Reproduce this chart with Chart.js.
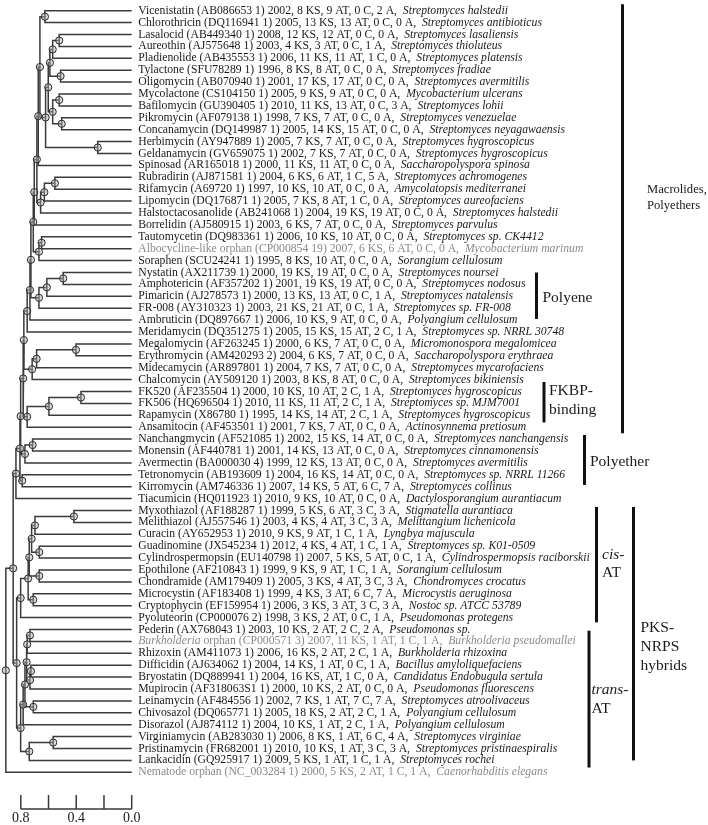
<!DOCTYPE html>
<html>
<head>
<meta charset="UTF-8">
<title>Modular PKS cluster dendrogram</title>
<script src="https://cdn.jsdelivr.net/npm/chart.js"></script>
<style>
    html, body { margin: 0; padding: 0; background: #fff; }
    #wrap { width: 708px; height: 825px; }
</style>
</head>
<body>
<div id="wrap"><canvas id="tree" width="708" height="825"></canvas></div>
<script>
// leaves, top to bottom
const clusters = ['Vicenistatin', 'Chlorothricin', 'Lasalocid', 'Aureothin', 'Pladienolide', 'Tylactone', 'Oligomycin',
    'Mycolactone', 'Bafilomycin', 'Pikromycin', 'Concanamycin', 'Herbimycin', 'Geldanamycin', 'Spinosad', 'Rubradirin',
    'Rifamycin', 'Lipomycin', 'Halstoctacosanolide', 'Borrelidin', 'Tautomycetin', 'Albocycline-like orphan', 'Soraphen',
    'Nystatin', 'Amphotericin', 'Pimaricin', 'FR-008', 'Ambruticin', 'Meridamycin', 'Megalomycin', 'Erythromycin',
    'Midecamycin', 'Chalcomycin', 'FK520', 'FK506', 'Rapamycin', 'Ansamitocin', 'Nanchangmycin', 'Monensin', 'Avermectin',
    'Tetronomycin', 'Kirromycin', 'Tiacumicin', 'Myxothiazol', 'Melithiazol', 'Curacin', 'Guadinomine', 'Cylindrospermopsin',
    'Epothilone', 'Chondramide', 'Microcystin', 'Cryptophycin', 'Pyoluteorin', 'Pederin', 'Burkholderia orphan', 'Rhizoxin',
    'Difficidin', 'Bryostatin', 'Mupirocin', 'Leinamycin', 'Chivosazol', 'Disorazol', 'Virginiamycin', 'Pristinamycin',
    'Lankacidin', 'Nematode orphan'];
const accessions = ['AB086653 1', 'DQ116941 1', 'AB449340 1', 'AJ575648 1', 'AB435553 1', 'SFU78289 1', 'AB070940 1',
    'CS104150 1', 'GU390405 1', 'AF079138 1', 'DQ149987 1', 'AY947889 1', 'GV659075 1', 'AR165018 1', 'AJ871581 1',
    'A69720 1', 'DQ176871 1', 'AB241068 1', 'AJ580915 1', 'DQ983361 1', 'CP000854 19', 'SCU24241 1',
    'AX211739 1', 'AF357202 1', 'AJ278573 1', 'AY310323 1', 'DQ897667 1', 'DQ351275 1', 'AF263245 1', 'AM420293 2',
    'AR897801 1', 'AY509120 1', 'AF235504 1', 'HQ696504 1', 'X86780 1', 'AF453501 1', 'AF521085 1', 'AF440781 1', 'BA000030 4',
    'AB193609 1', 'AM746336 1', 'HQ011923 1', 'AF188287 1', 'AJ557546 1', 'AY652953 1', 'JX545234 1', 'EU140798 1',
    'AF210843 1', 'AM179409 1', 'AF183408 1', 'EF159954 1', 'CP000076 2', 'AX768043 1', 'CP000571 3', 'AM411073 1',
    'AJ634062 1', 'DQ889941 1', 'AF318063S1 1', 'AF484556 1', 'DQ065771 1', 'AJ874112 1', 'AB283030 1', 'FR682001 1',
    'GQ925917 1', 'NC_003284 1'];
const years = [2002, 2005, 2008, 2003, 2006, 1996, 2001, 2005, 2010, 1998, 2005, 2005, 2002, 2000, 2004, 1997, 2005, 2004,
    2003, 2006, 2007, 1995, 2000, 2001, 2000, 2003, 2006, 2005, 2000, 2004, 2004, 2003, 2000, 2010, 1995, 2001, 2002, 2001,
    1999, 2004, 2007, 2010, 1999, 2003, 2010, 2012, 2007, 1999, 2005, 1999, 2006, 1998, 2003, 2007, 2006, 2004, 2004, 2000,
    2002, 2005, 2004, 2006, 2010, 2009, 2000];
const ksCounts = [8, 13, 12, 4, 11, 8, 17, 9, 11, 7, 14, 7, 7, 11, 6, 10, 7, 19, 6, 10, 6, 8, 19, 19, 13, 21, 10, 15, 6, 6,
    7, 8, 10, 11, 14, 7, 15, 14, 12, 16, 14, 9, 5, 4, 9, 4, 5, 9, 3, 4, 3, 3, 10, 11, 16, 14, 16, 10, 7, 18, 10, 8, 10, 5, 5];
const atCounts = [9, 13, 12, 3, 11, 8, 17, 9, 13, 7, 15, 7, 7, 11, 6, 10, 8, 19, 7, 10, 6, 10, 19, 19, 13, 21, 9, 15, 7, 7,
    7, 8, 10, 11, 14, 7, 14, 13, 13, 14, 5, 10, 6, 4, 9, 4, 5, 9, 4, 3, 3, 2, 2, 1, 2, 1, null, 2, 1, 2, 1, 1, 1, 1, 2];
const cCounts = [0, 0, 0, 0, 1, 0, 0, 0, 0, 0, 0, 0, 0, 0, 1, 0, 1, 0, 0, 0, 0, 0, 0, 0, 0, 0, 0, 2, 0, 0,
    0, 0, 2, 2, 2, 0, 0, 0, 0, 0, 6, 0, 3, 3, 1, 1, 0, 1, 3, 6, 3, 0, 2, 1, 2, 0, 1, 0, 7, 2, 2, 6, 3, 1, 1];
const aCounts = [2, 0, 0, 1, 0, 0, 0, 0, 3, 0, 0, 0, 0, 0, 5, 0, 0, 0, 0, 0, 0, 0, 0, 0, 1, 1, 0, 1, 0, 0,
    0, 0, 1, 1, 1, 0, 0, 0, 0, 0, 7, 0, 3, 3, 1, 1, 1, 1, 3, 7, 3, 1, 2, 1, 1, 1, 0, 0, 7, 1, 1, 4, 3, 1, 1];
const organisms = ['Streptomyces halstedii', 'Streptomyces antibioticus', 'Streptomyces lasaliensis', 'Streptomyces thioluteus',
    'Streptomyces platensis', 'Streptomyces fradiae', 'Streptomyces avermitilis', 'Mycobacterium ulcerans', 'Streptomyces lohii',
    'Streptomyces venezuelae', 'Streptomyces neyagawaensis', 'Streptomyces hygroscopicus', 'Streptomyces hygroscopicus',
    'Saccharopolyspora spinosa', 'Streptomyces achromogenes', 'Amycolatopsis mediterranei', 'Streptomyces aureofaciens',
    'Streptomyces halstedii', 'Streptomyces parvulus', 'Streptomyces sp. CK4412', 'Mycobacterium marinum', 'Sorangium cellulosum',
    'Streptomyces noursei', 'Streptomyces nodosus', 'Streptomyces natalensis', 'Streptomyces sp. FR-008', 'Polyangium cellulosum',
    'Streptomyces sp. NRRL 30748', 'Micromonospora megalomicea', 'Saccharopolyspora erythraea', 'Streptomyces mycarofaciens',
    'Streptomyces bikiniensis', 'Streptomyces hygroscopicus', 'Streptomyces sp. MJM7001', 'Streptomyces hygroscopicus',
    'Actinosynnema pretiosum', 'Streptomyces nanchangensis', 'Streptomyces cinnamonensis', 'Streptomyces avermitilis',
    'Streptomyces sp. NRRL 11266', 'Streptomyces collinus', 'Dactylosporangium aurantiacum', 'Stigmatella aurantiaca',
    'Melittangium lichenicola', 'Lyngbya majuscula', 'Streptomyces sp. K01-0509', 'Cylindrospermopsis raciborskii',
    'Sorangium cellulosum', 'Chondromyces crocatus', 'Microcystis aeruginosa', 'Nostoc sp. ATCC 53789', 'Pseudomonas protegens',
    'Pseudomonas sp.', 'Burkholderia pseudomallei', 'Burkholderia rhizoxina', 'Bacillus amyloliquefaciens',
    'Candidatus Endobugula sertula', 'Pseudomonas fluorescens', 'Streptomyces atroolivaceus', 'Polyangium cellulosum',
    'Polyangium cellulosum', 'Streptomyces virginiae', 'Streptomyces pristinaespiralis', 'Streptomyces rochei',
    'Caenorhabditis elegans'];
const orphanRows = [21, 54, 65];
const italicGenusRows = [54];

// hclust style merges: negative = leaf row, positive = earlier merge
const merges = [[-1, -2], [-3, -4], [2, -5], [-6, -7], [3, 4], [-8, -9], [-10, -11], [6, 7], [5, 8], [-12, -13],
    [9, 10], [1, 11], [12, -14], [-15, -16], [14, -17], [15, -18], [13, 16], [17, -19], [-20, -21], [19, -22],
    [18, 20], [-23, -24], [22, -25], [23, -26], [21, 24], [25, -27], [26, -28], [-29, -30], [28, -31], [29, -32],
    [27, 30], [-33, -34], [32, -35], [33, -36], [31, 34], [-37, -38], [36, -39], [35, 37], [-40, -41], [38, 39],
    [40, -42], [-43, -44], [42, -45], [-46, -47], [43, 44], [-48, -49], [45, 46], [-50, -51], [47, 48], [49, -52],
    [-53, -54], [51, -55], [-56, -57], [53, -58], [52, 54], [-59, -60], [55, 56], [57, -61], [-62, -63], [59, -64],
    [58, 60], [50, 61], [41, 62], [63, -65]];
const heights = [0.626, 0.523, 0.570, 0.513, 0.590, 0.523, 0.505, 0.570, 0.602, 0.245,
    0.621, 0.662, 0.674, 0.554, 0.630, 0.657, 0.684, 0.703, 0.650, 0.669,
    0.710, 0.494, 0.612, 0.669, 0.727, 0.734, 0.754, 0.402, 0.686, 0.718,
    0.778, 0.366, 0.597, 0.754, 0.783, 0.715, 0.770, 0.801, 0.790, 0.806,
    0.835, 0.417, 0.698, 0.667, 0.722, 0.667, 0.739, 0.710, 0.747, 0.801,
    0.734, 0.754, 0.727, 0.734, 0.758, 0.710, 0.770, 0.783, 0.566, 0.739,
    0.801, 0.830, 0.855, 0.908];

const axisTicks = [0.8, 0.6, 0.4, 0.2, 0.0];
const axisLabels = ['0.8', '', '0.4', '', '0.0'];

const groupLabels = [['Macrolides,', 'Polyethers'], ['Polyene'], ['FKBP-', 'binding'], ['Polyether'],
    ['cis-', 'AT'], ['trans-', 'AT'], ['PKS-', 'NRPS', 'hybrids']];
const groupFirstRow = [1, 23, 33, 37, 43, 53, 43];
const groupLastRow = [36, 26, 35, 40, 52, 64, 64];

// ---- build node coordinates ----
const nodeX = [], nodeY = [];
function childPos(id) {
    if (id < 0) return { x: 0, y: -id };
    return { x: nodeX[id - 1], y: nodeY[id - 1] };
}
const branchSets = [];
const nodePoints = [];
merges.forEach((m, i) => {
    const a = childPos(m[0]);
    const b = childPos(m[1]);
    const h = heights[i];
    nodeX.push(h);
    nodeY.push((a.y + b.y) / 2);
    branchSets.push({
        type: 'line',
        data: [{ x: a.x, y: a.y }, { x: h, y: a.y }, { x: h, y: b.y }, { x: b.x, y: b.y }],
        borderColor: '#3a3a3a',
        borderWidth: 1.5,
        pointRadius: 0,
        tension: 0,
        fill: false,
        clip: false
    });
    nodePoints.push({ x: h, y: (a.y + b.y) / 2 });
});

const SERIF = '"Liberation Serif", "Times New Roman", serif';
const LABEL_PX = 11.7;

const labelsPlugin = {
    id: 'labels',
    afterDraw(chart) {
        const ctx = chart.ctx;
        const xs = chart.scales.x, ys = chart.scales.y;
        const x0 = xs.getPixelForValue(0) + 6.5;
        ctx.save();
        ctx.textBaseline = 'middle';
        ctx.textAlign = 'left';
        clusters.forEach((name, i) => {
            const row = i + 1;
            const y = ys.getPixelForValue(row);
            const grey = orphanRows.includes(row);
            ctx.fillStyle = grey ? '#8a8a8a' : '#1a1a1a';
            let x = x0;
            const pieces = [];
            if (italicGenusRows.includes(row)) {
                const sp = name.indexOf(' ');
                pieces.push([name.slice(0, sp), true], [name.slice(sp), false]);
            } else {
                pieces.push([name, false]);
            }
            const at = atCounts[i] == null ? '' : atCounts[i] + ' ';
            pieces.push([` (${accessions[i]}) ${years[i]}, ${ksCounts[i]} KS, ${at}AT, ${cCounts[i]} C, ${aCounts[i]} A,  `, false]);
            pieces.push([organisms[i], true]);
            pieces.forEach(([t, it]) => {
                ctx.font = (it ? 'italic ' : '') + LABEL_PX + 'px ' + SERIF;
                ctx.fillText(t, x, y);
                x += ctx.measureText(t).width;
            });
        });

        // axis
        const base = 809, tickTop = 795;
        ctx.strokeStyle = '#3a3a3a';
        ctx.lineWidth = 1.5;
        ctx.beginPath();
        ctx.moveTo(xs.getPixelForValue(axisTicks[0]), base);
        ctx.lineTo(xs.getPixelForValue(axisTicks[axisTicks.length - 1]), base);
        axisTicks.forEach(t => {
            const px = xs.getPixelForValue(t);
            ctx.moveTo(px, base);
            ctx.lineTo(px, tickTop);
        });
        ctx.stroke();
        ctx.fillStyle = '#1a1a1a';
        ctx.textAlign = 'center';
        ctx.font = '14px ' + SERIF;
        axisTicks.forEach((t, i) => {
            if (axisLabels[i]) ctx.fillText(axisLabels[i], xs.getPixelForValue(t), 818);
        });

        // group brackets (row padding above / below the bar ends)
        const barX = [622.5, 536.5, 544, 584.5, 596.5, 589, 633.5];
        const padTop = [0.55, 0, 0.8, 0.35, 0.3, -0.1, 0.3];
        const padBot = [0.5, 0.9, 0.6, 0.85, 0.4, 0.6, 0];
        const textX = [647, 542.5, 549, 590, 602, 591.5, 640.5];
        const textY = [190, 297.5, 391, 461.5, 555, 690, 628];
        const fontPx = [12.6, 15.5, 15.5, 15.5, 15.5, 15.5, 15.5];
        const lineGap = [15.8, 0, 18.8, 0, 17.5, 19, 18.8];
        ctx.textAlign = 'left';
        ctx.lineWidth = 3;
        ctx.strokeStyle = '#111';
        groupLabels.forEach((lines, g) => {
            const yTop = ys.getPixelForValue(groupFirstRow[g] - padTop[g]);
            const yBot = ys.getPixelForValue(groupLastRow[g] + padBot[g]);
            ctx.beginPath();
            ctx.moveTo(barX[g], yTop);
            ctx.lineTo(barX[g], yBot);
            ctx.stroke();
            lines.forEach((t, k) => {
                const it = (g === 4 || g === 5) && k === 0;
                ctx.font = (it ? 'italic ' : '') + fontPx[g] + 'px ' + SERIF;
                ctx.fillText(t, textX[g], textY[g] + k * lineGap[g]);
            });
        });
        ctx.restore();
    }
};

new Chart(document.getElementById('tree'), {
    type: 'line',
    data: {
        datasets: [{
            type: 'scatter',
            data: nodePoints,
            pointStyle: 'circle',
            pointRadius: 3.6,
            pointBorderWidth: 1,
            pointBorderColor: '#2a2a2a',
            pointBackgroundColor: 'rgba(170,170,170,0.45)',
            showLine: false,
            clip: false
        }].concat(branchSets)
    },
    options: {
        responsive: false,
        animation: false,
        events: [],
        layout: { autoPadding: false, padding: { left: 0, right: 576.3, top: 4.75, bottom: 46.75 } },
        plugins: { legend: { display: false }, tooltip: { enabled: false } },
        scales: {
            x: { type: 'linear', reverse: true, min: 0, max: 0.95, display: false },
            y: { type: 'linear', reverse: true, min: 0.5, max: 65.5, display: false }
        }
    },
    plugins: [labelsPlugin]
});
</script>
</body>
</html>
